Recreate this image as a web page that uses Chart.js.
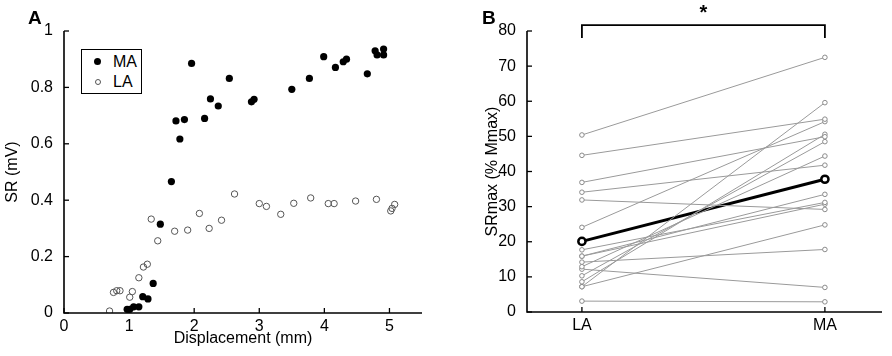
<!DOCTYPE html>
<html><head><meta charset="utf-8">
<script src="https://cdn.jsdelivr.net/npm/chart.js@4.4.1/dist/chart.umd.min.js"></script>
<style>
html,body{margin:0;padding:0;background:#fff;}
#wrap{position:relative;width:892px;height:356px;overflow:hidden;font-family:Arial,"Liberation Sans",sans-serif;color:#000;}
#cA{position:absolute;left:0;top:0;}
#cB{position:absolute;left:446px;top:0;}
.plab{position:absolute;font-weight:bold;font-size:19px;line-height:19px;}
#legend{position:absolute;left:81px;top:49px;width:59px;height:43px;border:1px solid #000;background:#fff;font-size:16px;}
#legend .it{position:absolute;left:31px;line-height:18px;}
#legend .mk{position:absolute;border-radius:50%;box-sizing:border-box;}
</style></head>
<body>
<div id="wrap">
<canvas id="cA" width="446" height="356"></canvas>
<canvas id="cB" width="446" height="356"></canvas>
<div class="plab" style="left:28px;top:8px;">A</div>
<div class="plab" style="left:482px;top:8px;">B</div>
<div id="legend">
  <div class="mk" style="left:12px;top:8px;width:7px;height:7px;background:#000;"></div>
  <div class="it" style="top:3px;">MA</div>
  <div class="mk" style="left:13px;top:29px;width:6px;height:6px;border:1px solid #555;"></div>
  <div class="it" style="top:23px;">LA</div>
</div>
</div>
<script>
// ---------- Panel A data ----------
const maX = [0.97,1.01,1.07,1.15,1.21,1.29,1.37,1.48,1.65,1.72,1.78,1.85,1.96,2.16,2.25,2.37,2.54,2.88,2.92,3.50,3.77,3.99,4.17,4.29,4.34,4.66,4.78,4.81,4.91,4.91];
const maY = [0.013,0.013,0.022,0.022,0.058,0.050,0.105,0.315,0.466,0.681,0.617,0.686,0.885,0.690,0.759,0.734,0.832,0.749,0.758,0.793,0.832,0.909,0.871,0.891,0.900,0.848,0.930,0.915,0.936,0.915];
const laX = [0.70,0.76,0.81,0.86,1.01,1.05,1.15,1.22,1.28,1.34,1.44,1.70,1.90,2.08,2.23,2.42,2.62,3.00,3.11,3.33,3.53,3.79,4.06,4.15,4.48,4.80,5.02,5.04,5.08];
const laY = [0.007,0.073,0.079,0.079,0.056,0.076,0.125,0.163,0.173,0.333,0.256,0.290,0.294,0.353,0.300,0.329,0.422,0.388,0.378,0.350,0.389,0.408,0.388,0.388,0.397,0.403,0.362,0.371,0.385];
const xTicksA = [0,1,2,3,4,5];
const yTicksA = [0,0.2,0.4,0.6,0.8,1];

// ---------- Panel B data ----------
const categoriesB = ['LA','MA'];
const subjLA = [50.4,44.6,36.9,34.1,31.9,24.1,17.7,15.9,15.9,14.2,12.9,12.2,10.3,8.6,7.2,7.2,3.1];
const subjMA = [72.5,54.9,49.9,41.8,29.2,54.2,31.2,33.5,30.7,17.8,44.4,7.0,48.5,50.6,59.6,24.8,2.9];
const meanB = [20.1,37.8];
const yTicksB = [0,10,20,30,40,50,60,70,80];
const sigBracket = {from:'LA', to:'MA', label:'*'};

const FONT = {family:'Arial, "Liberation Sans", sans-serif', size:16};

const axisPlugin = {
  id:'axisPlugin',
  afterDraw(chart){
    const ctx = chart.ctx, ca = chart.chartArea;
    const xs = chart.scales.x, ys = chart.scales.y;
    ctx.save();
    ctx.strokeStyle = '#000';
    ctx.lineWidth = 1.6;
    ctx.beginPath();
    ctx.moveTo(ca.left, ca.top);
    ctx.lineTo(ca.left, ca.bottom);
    ctx.lineTo(ca.right, ca.bottom);
    ctx.stroke();
    ctx.lineWidth = 1.3;
    const tl = 5;
    xs.ticks.forEach(t => {
      const px = xs.getPixelForValue(t.value);
      ctx.beginPath(); ctx.moveTo(px, ca.bottom); ctx.lineTo(px, ca.bottom - tl); ctx.stroke();
    });
    ys.ticks.forEach(t => {
      const py = ys.getPixelForValue(t.value);
      ctx.beginPath(); ctx.moveTo(ca.left, py); ctx.lineTo(ca.left + tl, py); ctx.stroke();
    });
    ctx.restore();
  }
};

const bracketPlugin = {
  id:'bracketPlugin',
  afterDraw(chart){
    const ctx = chart.ctx, xs = chart.scales.x, ys = chart.scales.y;
    const x1 = xs.getPixelForValue(categoriesB.indexOf(sigBracket.from)+1);
    const x2 = xs.getPixelForValue(categoriesB.indexOf(sigBracket.to)+1);
    const yTop = ys.getPixelForValue(81.7), yBot = ys.getPixelForValue(78);
    ctx.save();
    ctx.strokeStyle = '#000'; ctx.lineWidth = 1.8;
    ctx.beginPath(); ctx.moveTo(x1, yBot); ctx.lineTo(x1, yTop); ctx.lineTo(x2, yTop); ctx.lineTo(x2, yBot); ctx.stroke();
    ctx.fillStyle = '#000'; ctx.font = 'bold 20px Arial, "Liberation Sans", sans-serif';
    ctx.textAlign = 'center'; ctx.textBaseline = 'alphabetic';
    ctx.fillText(sigBracket.label, (x1+x2)/2, yTop - 6);
    ctx.restore();
  }
};

// ---------- Chart A ----------
new Chart(document.getElementById('cA'), {
  type:'scatter',
  data:{datasets:[
    {label:'MA', data:maX.map((x,i)=>({x, y:maY[i]})), pointRadius:3.6, pointHoverRadius:3.6,
     pointBackgroundColor:'#000', pointBorderColor:'#000', pointBorderWidth:0},
    {label:'LA', data:laX.map((x,i)=>({x, y:laY[i]})), pointRadius:3.2, pointHoverRadius:3.2,
     pointBackgroundColor:'rgba(255,255,255,0)', pointBorderColor:'#555', pointBorderWidth:1}
  ]},
  options:{
    responsive:false, animation:false, events:[],
    layout:{padding:{left:0, right:24, top:31, bottom:0}},
    plugins:{legend:{display:false}, tooltip:{enabled:false}},
    scales:{
      x:{type:'linear', min:0, max:5.5,
         afterBuildTicks:s=>{s.ticks = xTicksA.map(v=>({value:v}));},
         afterFit:s=>{s.height = 43;},
         grid:{display:false}, border:{display:false},
         ticks:{font:FONT, color:'#000', padding:-4, maxRotation:0, callback:v=>String(v)},
         title:{display:true, text:'Displacement (mm)', font:FONT, color:'#000', padding:{top:0,bottom:8}}},
      y:{type:'linear', min:0, max:1,
         afterBuildTicks:s=>{s.ticks = yTicksA.map(v=>({value:v}));},
         afterFit:s=>{s.width = 64;},
         grid:{display:false}, border:{display:false},
         ticks:{font:FONT, color:'#000', padding:3, callback:v=>String(v)},
         title:{display:true, text:'SR (mV)', font:FONT, color:'#000', padding:{top:3,bottom:0}}}
    }
  },
  plugins:[axisPlugin]
});

// ---------- Chart B ----------
const dsB = subjLA.map((v,i)=>({
  data:[{x:1,y:v},{x:2,y:subjMA[i]}], showLine:true,
  borderColor:'#9a9a9a', borderWidth:1,
  pointRadius:2.3, pointHoverRadius:2.3, pointBorderColor:'#8a8a8a', pointBackgroundColor:'#fff', pointBorderWidth:1
}));
dsB.push({
  data:meanB.map((v,i)=>({x:i+1,y:v})), showLine:true,
  borderColor:'#000', borderWidth:3,
  pointRadius:3.6, pointHoverRadius:3.6, pointBorderColor:'#000', pointBackgroundColor:'#fff', pointBorderWidth:2.5
});
new Chart(document.getElementById('cB'), {
  type:'scatter',
  data:{datasets:dsB},
  options:{
    responsive:false, animation:false, events:[],
    layout:{padding:{left:0, right:10, top:31, bottom:0}},
    plugins:{legend:{display:false}, tooltip:{enabled:false}},
    scales:{
      x:{type:'linear', min:0.774, max:2.235,
         afterBuildTicks:s=>{s.ticks = categoriesB.map((c,i)=>({value:i+1}));},
         afterFit:s=>{s.height = 44;},
         grid:{display:false}, border:{display:false},
         ticks:{font:FONT, color:'#000', padding:-4, maxRotation:0, callback:v=>categoriesB[Math.round(v)-1]}},
      y:{type:'linear', min:0, max:80,
         afterBuildTicks:s=>{s.ticks = yTicksB.map(v=>({value:v}));},
         afterFit:s=>{s.width = 81;},
         grid:{display:false}, border:{display:false},
         ticks:{font:FONT, color:'#000', padding:3, callback:v=>String(v)},
         title:{display:true, text:'SRmax (% Mmax)', font:FONT, color:'#000', padding:{top:37,bottom:0}}}
    }
  },
  plugins:[axisPlugin, bracketPlugin]
});
</script>
</body></html>
